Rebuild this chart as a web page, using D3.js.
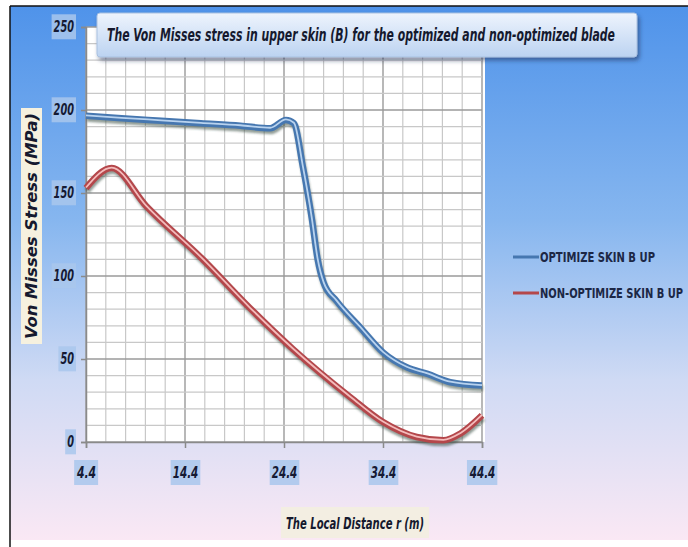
<!DOCTYPE html>
<html>
<head>
<meta charset="utf-8">
<script src="https://cdn.jsdelivr.net/npm/d3@7"></script>
<style>
body { margin: 0; background: #fff; }
svg { display: block; }
text { font-family: "DejaVu Sans Condensed", "Liberation Sans", sans-serif; }
</style>
</head>
<body>
<div id="chart"></div>
<script>
// values
var optX = [4.4, 8, 12, 16, 20, 23, 24.6, 25.4, 26.3, 27.2, 27.8, 28.4, 29.7, 32.1, 34.4, 36.8, 38.9, 41.2, 44.4];
var optY = [196.5, 195, 193.5, 192, 190.5, 189, 194, 192, 166, 135, 110, 96, 85, 69, 54, 45, 41, 36, 34];
var nonX = [4.4, 7, 10.5, 16.2, 20.9, 25.3, 31.1, 34.4, 37.8, 40.5, 42.2, 44.4];
var nonY = [153, 165, 142, 110, 81, 56, 27, 12, 3, 1, 5, 16];
var xTicks = [4.4, 14.4, 24.4, 34.4, 44.4];
var yTicks = [0, 50, 100, 150, 200, 250];
var seriesNames = ["OPTIMIZE SKIN B UP", "NON-OPTIMIZE SKIN B UP"];

var W = 688, H = 547;
var svg = d3.select("#chart").append("svg").attr("width", W).attr("height", H);
var defs = svg.append("defs");

var bg = defs.append("linearGradient").attr("id", "bg")
    .attr("x1", 0).attr("y1", 0).attr("x2", 0).attr("y2", 1);
bg.append("stop").attr("offset", "0%").attr("stop-color", "#4f93ea");
bg.append("stop").attr("offset", "40%").attr("stop-color", "#86b6ef");
bg.append("stop").attr("offset", "70%").attr("stop-color", "#cfdaf4");
bg.append("stop").attr("offset", "100%").attr("stop-color", "#fae8f4");

var tb = defs.append("linearGradient").attr("id", "tb")
    .attr("x1", 0).attr("y1", 0).attr("x2", 0).attr("y2", 1);
tb.append("stop").attr("offset", "0%").attr("stop-color", "#eef4fd");
tb.append("stop").attr("offset", "100%").attr("stop-color", "#bcd3f1");

var sh = defs.append("filter").attr("id", "sh").attr("x", "-5%").attr("y", "-20%")
    .attr("width", "115%").attr("height", "160%");
sh.append("feDropShadow").attr("dx", 2).attr("dy", 3).attr("stdDeviation", 2)
    .attr("flood-color", "#223355").attr("flood-opacity", 0.55);

var blur = defs.append("filter").attr("id", "blur");
blur.append("feGaussianBlur").attr("stdDeviation", 1.2);

// background and frame
svg.append("rect").attr("x", 10).attr("y", 6).attr("width", 678).attr("height", 534)
    .attr("fill", "url(#bg)");
svg.append("line").attr("x1", 10).attr("y1", 6).attr("x2", 688).attr("y2", 6)
    .attr("stroke", "#111").attr("stroke-width", 1.5);
svg.append("line").attr("x1", 10).attr("y1", 6).attr("x2", 10).attr("y2", 547)
    .attr("stroke", "#111").attr("stroke-width", 1.5);

var x = d3.scaleLinear().domain([4.4, 44.4]).range([86, 482]);
var y = d3.scaleLinear().domain([0, 250]).range([442, 27]);

// plot panel
svg.append("rect").attr("x", 86).attr("y", y(250))
    .attr("width", 399).attr("height", y(0) - y(250)).attr("fill", "#fff");

var grid = svg.append("g");
d3.range(4.4, 44.5, 2).forEach(function (v, i) {
    grid.append("line").attr("x1", x(v)).attr("x2", x(v)).attr("y1", y(250)).attr("y2", y(0))
        .attr("stroke", i % 5 == 0 ? "#9a9a9a" : "#c8c8c8").attr("stroke-width", i % 5 == 0 ? 1.4 : 1.2);
});
d3.range(0, 251, 10).forEach(function (v) {
    grid.append("line").attr("x1", x(4.4)).attr("x2", x(44.4)).attr("y1", y(v)).attr("y2", y(v))
        .attr("stroke", v % 50 == 0 ? "#9a9a9a" : "#c8c8c8").attr("stroke-width", v % 50 == 0 ? 1.4 : 1.2);
});

// axes
var xAxis = svg.append("g").attr("transform", "translate(0," + y(0) + ")")
    .call(d3.axisBottom(x).tickValues(xTicks).tickSize(6).tickFormat(d3.format(".1f")));
var yAxis = svg.append("g").attr("transform", "translate(" + x(4.4) + ",0)")
    .call(d3.axisLeft(y).tickValues(yTicks).tickSize(5).tickFormat(d3.format("d")));
[xAxis, yAxis].forEach(function (a) {
    a.select(".domain").attr("stroke", "#8a8a8a").attr("stroke-width", 1.5);
    a.selectAll(".tick line").attr("stroke", "#8a8a8a").attr("stroke-width", 1.5);
    a.selectAll(".tick text").attr("fill", "#151a33").attr("font-size", 16)
        .attr("font-weight", "bold").attr("font-style", "italic")
        .attr("lengthAdjust", "spacingAndGlyphs");
});
xAxis.selectAll(".tick text").attr("dy", 0).attr("y", 36)
    .attr("textLength", function () { return this.textContent.length * 6.4; });
yAxis.selectAll(".tick text").attr("x", -12).attr("dy", "0.3em")
    .attr("textLength", function () { return this.textContent.length * 6.8; });

// light highlight boxes behind tick labels
[xAxis, yAxis].forEach(function (a) {
    a.selectAll(".tick").each(function () {
        var t = d3.select(this).select("text");
        var b = t.node().getBBox();
        d3.select(this).insert("rect", "text")
            .attr("x", b.x - 2).attr("y", b.y - 3).attr("width", b.width + 4).attr("height", b.height + 6)
            .attr("fill", "#a9c7ec").attr("opacity", 0.85);
    });
});

// series lines
var line = d3.line().x(d => x(d[0])).y(d => y(d[1])).curve(d3.curveMonotoneX);
var series = [
    { pts: d3.zip(optX, optY), dark: "#4677b0", light: "#b9d3ef" },
    { pts: d3.zip(nonX, nonY), dark: "#b4474b", light: "#f4bcbc" }
];
series.forEach(function (s) {
    svg.append("path").attr("d", line(s.pts)).attr("fill", "none")
        .attr("stroke", "#3d4e46").attr("stroke-opacity", 0.55).attr("stroke-width", 6)
        .attr("transform", "translate(1,3)").attr("filter", "url(#blur)");
    svg.append("path").attr("d", line(s.pts)).attr("fill", "none")
        .attr("stroke", s.dark).attr("stroke-width", 6.5).attr("stroke-linejoin", "round");
    svg.append("path").attr("d", line(s.pts)).attr("fill", "none")
        .attr("stroke", s.light).attr("stroke-width", 1.8).attr("transform", "translate(0,-0.5)");
});

// title box
svg.append("rect").attr("x", 97).attr("y", 13).attr("width", 540).attr("height", 44)
    .attr("rx", 3).attr("fill", "url(#tb)").attr("stroke", "#a9c0e0").attr("filter", "url(#sh)");
svg.append("text").attr("x", 107).attr("y", 41)
    .attr("font-size", 17).attr("font-weight", "bold").attr("font-style", "italic").attr("fill", "#15192e")
    .attr("textLength", 508).attr("lengthAdjust", "spacingAndGlyphs")
    .text("The Von Misses stress in upper skin (B) for the optimized and non-optimized blade");

// axis titles
svg.append("rect").attr("x", 21).attr("y", 108).attr("width", 21).attr("height", 236).attr("fill", "#f6f1df");
svg.append("text").attr("transform", "translate(37,226) rotate(-90)").attr("text-anchor", "middle")
    .attr("font-size", 16).attr("font-weight", "bold").attr("font-style", "italic").attr("fill", "#15192e")
    .attr("textLength", 226).attr("lengthAdjust", "spacingAndGlyphs")
    .text("Von Misses Stress (MPa)");
svg.append("rect").attr("x", 281).attr("y", 507).attr("width", 148).attr("height", 31).attr("fill", "#f3eee2");
svg.append("text").attr("x", 355).attr("y", 529).attr("text-anchor", "middle")
    .attr("font-size", 16).attr("font-weight", "bold").attr("font-style", "italic").attr("fill", "#15192e")
    .attr("textLength", 138).attr("lengthAdjust", "spacingAndGlyphs")
    .text("The Local Distance r (m)");

// legend
var legendY = [257, 293];
var legendW = [115, 143];
seriesNames.forEach(function (name, i) {
    svg.append("line").attr("x1", 513).attr("x2", 539).attr("y1", legendY[i]).attr("y2", legendY[i])
        .attr("stroke", series[i].dark).attr("stroke-width", 3);
    svg.append("text").attr("x", 540).attr("y", legendY[i] + 5)
        .attr("font-size", 14).attr("font-weight", "bold").attr("fill", "#1c2745")
        .attr("textLength", legendW[i]).attr("lengthAdjust", "spacingAndGlyphs")
        .text(name);
});
</script>
</body>
</html>
